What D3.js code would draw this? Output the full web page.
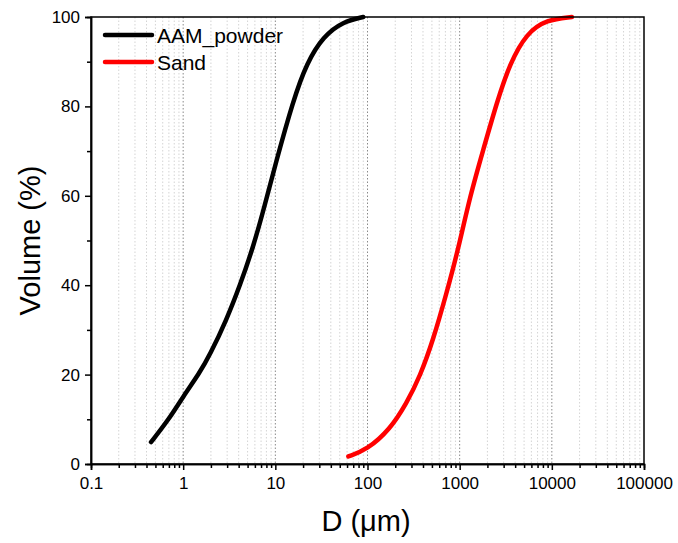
<!DOCTYPE html>
<html><head><meta charset="utf-8">
<script src="https://cdn.jsdelivr.net/npm/d3@7"></script>
<style>body{margin:0;background:#fff}svg{display:block;font-family:"Liberation Sans",Arial,sans-serif}</style>
</head><body><svg id="c" width="678" height="543"></svg>
<script>
const seriesNames = ["AAM_powder", "Sand"];
const seriesColors = ["#000000", "#ff0000"];
const aamD = [0.448, 0.7, 1.0, 1.5, 1.95, 2.96, 4.14, 5.77, 7.6, 10.0, 15.7, 21.9, 33.1, 54.6, 90];
const aamV = [4.9, 10.0, 15.1, 20.3, 24.4, 32.3, 40.0, 48.6, 57.5, 67.0, 81.5, 89.7, 95.7, 99.0, 100];
const sandD = [62, 99, 175, 266, 371, 517, 722, 950, 1294, 1804, 2521, 3517, 5333, 8790, 16500];
const sandV = [1.7, 3.2, 7.7, 13.6, 19.6, 27.8, 38.3, 47.5, 59.9, 70.3, 80.8, 89.7, 96.4, 99.4, 100];
const xTickValues = [0.1, 1, 10, 100, 1000, 10000, 100000];
const yTickValues = [0, 20, 40, 60, 80, 100];

const svg = d3.select("#c");
const L = 91, R = 644, T = 17, B = 464;
const x = d3.scaleLog().domain([0.1, 100000]).range([L, R]);
const y = d3.scaleLinear().domain([0, 100]).range([B, T]);

const minors = [];
for (let e = -1; e < 5; e++) for (let k = 2; k <= 9; k++) minors.push(k * Math.pow(10, e));

// grid
const g = svg.append("g");
g.selectAll("line.mg").data(minors).join("line")
  .attr("x1", d => x(d)).attr("x2", d => x(d)).attr("y1", T).attr("y2", B)
  .attr("stroke", "#d4d4d4").attr("stroke-width", 1).attr("stroke-dasharray", "1.5,2");
g.selectAll("line.Mg").data(xTickValues.slice(1, -1)).join("line")
  .attr("x1", d => x(d)).attr("x2", d => x(d)).attr("y1", T).attr("y2", B)
  .attr("stroke", "#8a8a8a").attr("stroke-width", 1).attr("stroke-dasharray", "1.5,2");

// curves
const line = d3.line().x(d => x(d[0])).y(d => y(d[1])).curve(d3.curveBasis);
const data = [d3.zip(aamD, aamV), d3.zip(sandD, sandV)];
svg.selectAll("path.s").data(data).join("path")
  .attr("d", line).attr("fill", "none")
  .attr("stroke", (d, i) => seriesColors[i]).attr("stroke-width", 4.5).attr("stroke-linecap", "round");

// frame
svg.append("rect").attr("x", L).attr("y", T).attr("width", R - L).attr("height", B - T)
  .attr("fill", "none").attr("stroke", "#000").attr("stroke-width", 1.5);

// axes
const xAxis = svg.append("g").attr("transform", `translate(0,${B})`)
  .call(d3.axisBottom(x).tickValues(xTickValues).tickFormat(d3.format("")).tickSize(6).tickPadding(7));
const xMinor = svg.append("g").attr("transform", `translate(0,${B})`)
  .call(d3.axisBottom(x).tickValues(minors).tickFormat("").tickSize(4));
const yAxis = svg.append("g").attr("transform", `translate(${L},0)`)
  .call(d3.axisLeft(y).tickValues(yTickValues).tickSize(6).tickPadding(5));
const yMinor = svg.append("g").attr("transform", `translate(${L},0)`)
  .call(d3.axisLeft(y).tickValues([10, 30, 50, 70, 90]).tickFormat("").tickSize(4));
[xAxis, xMinor, yAxis, yMinor].forEach(a => {
  a.select(".domain").attr("stroke-width", 1.5);
  a.selectAll(".tick line").attr("stroke-width", 1.5);
  a.selectAll("text").attr("font-size", 17).attr("fill", "#000")
    .attr("font-family", '"Liberation Sans",Arial,sans-serif');
});

// titles
svg.append("text").attr("x", 366).attr("y", 531).attr("text-anchor", "middle")
  .attr("font-size", 29).text("D (μm)");
svg.append("text").attr("transform", `translate(40,${(T + B) / 2}) rotate(-90)`)
  .attr("text-anchor", "middle").attr("font-size", 29).text("Volume (%)");

// legend
const lg = svg.append("g");
seriesNames.forEach((n, i) => {
  const yy = 35 + i * 27;
  lg.append("line").attr("x1", 105).attr("x2", 152).attr("y1", yy).attr("y2", yy)
    .attr("stroke", seriesColors[i]).attr("stroke-width", 4.5).attr("stroke-linecap", "round");
  lg.append("text").attr("x", 157).attr("y", yy + 7.5).attr("font-size", 21).text(n);
});
</script></body></html>
